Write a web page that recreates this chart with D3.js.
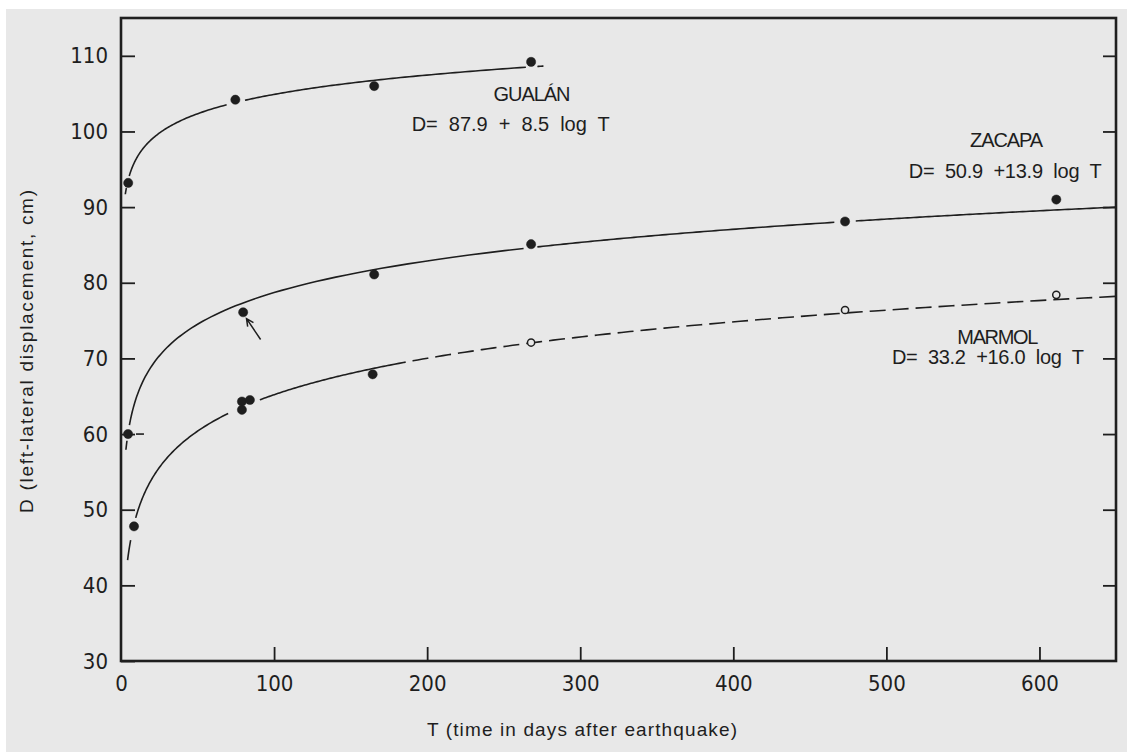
<!DOCTYPE html>
<html>
<head>
<meta charset="utf-8">
<script src="https://cdn.jsdelivr.net/npm/d3@7"></script>
<style>
  html, body { margin: 0; padding: 0; background: #ffffff; }
  svg { display: block; }
</style>
</head>
<body>
<svg width="1127" height="752"></svg>
<script>
var gualanT = [4.7, 74.7, 165.4, 267.9];
var gualanD = [93.2, 104.2, 106.0, 109.2];
var zacapaT = [4.6, 79.8, 165.4, 267.9, 473, 611];
var zacapaD = [60.0, 76.1, 81.1, 85.1, 88.1, 91.0];
var marmolT = [8.5, 79.0, 84.2, 79.0, 164.4];
var marmolD = [47.8, 64.3, 64.5, 63.2, 67.9];
var marmolOpenT = [267.9, 473, 611];
var marmolOpenD = [72.1, 76.4, 78.4];

// fitted curves  D = a + b log T
var gualanFit = [87.9, 8.5];
var zacapaFit = [50.9, 13.9];
var marmolFit = [33.2, 16.0];

// T ranges where each curve is inked
var gualanSolid = [[2.8, 3.5], [5.4, 69], [81, 264.5], [272, 276]];
var zacapaSolid = [[3.2, 3.9], [5.5, 263], [272, 466], [480, 650]];
var marmolSolid = [[4.3, 6.3], [9.6, 70], [90.7, 175.7]];
var marmolDashed = [[175.7, 650]];

var xTicks = [0, 100, 200, 300, 400, 500, 600];
var yTicks = [30, 40, 50, 60, 70, 80, 90, 100, 110];
var yTicksRight = [40, 50, 60, 70, 80, 90, 100, 110];

var labels = [
  {text: "GUALÁN", T: 268.5, D: 104.05, w: 77, anchor: "middle"},
  {text: "D=  87.9  +  8.5  log  T", T: 189.9, D: 100.1, w: 198, anchor: "start"},
  {text: "ZACAPA", T: 578.5, D: 97.9, w: 73, anchor: "middle"},
  {text: "D=  50.9  +13.9  log  T", T: 514.6, D: 93.9, w: 193, anchor: "start"},
  {text: "MARMOL", T: 572.8, D: 71.9, w: 81, anchor: "middle"},
  {text: "D=  33.2  +16.0  log  T", T: 503.6, D: 69.2, w: 192, anchor: "start"}
];

var zacapaBar = [[9.8, 60], [15, 60]];
var arrowTail = [91.2, 72.5];
var arrowHead = [82.0, 75.25];

var ink = "#1e1e1e";
var paper = "#e8e8e8";

var svg = d3.select("svg");

svg.append("rect").attr("x", 6).attr("y", 9).attr("width", 1121).attr("height", 743)
   .attr("fill", paper);

var x = d3.scaleLinear().domain([0, 650]).range([121, 1116]);
var y = d3.scaleLinear().domain([30, 115]).range([661, 18]);

function curvePts(fit, seg) {
    var n = 80, pts = [];
    var l0 = Math.log10(seg[0]), l1 = Math.log10(seg[1]);
    for (var i = 0; i <= n; i++) {
        var t = Math.pow(10, l0 + (l1 - l0) * i / n);
        pts.push([t, fit[0] + fit[1] * Math.log10(t)]);
    }
    return pts;
}

var line = d3.line()
    .x(function(d){ return x(d[0]); })
    .y(function(d){ return y(d[1]); });

function drawCurve(fit, segs, dashed) {
    svg.append("g")
      .selectAll("path")
      .data(segs)
      .enter()
      .append("path")
        .attr("d", function(s){ return line(curvePts(fit, s)); })
        .attr("fill", "none")
        .attr("stroke", ink)
        .attr("stroke-width", 1.6)
        .attr("stroke-dasharray", dashed ? "16,7" : null);
}

drawCurve(gualanFit, gualanSolid, false);
drawCurve(zacapaFit, zacapaSolid, false);
drawCurve(marmolFit, marmolSolid, false);
drawCurve(marmolFit, marmolDashed, true);

svg.append("path")
   .attr("d", line(zacapaBar))
   .attr("stroke", ink).attr("stroke-width", 1.6);

// axes
var xAxis = d3.axisBottom(x).tickValues(xTicks).tickSizeInner(-14).tickSizeOuter(0).tickPadding(14);
var gx = svg.append("g").attr("transform", "translate(0,661)").call(xAxis);

var yAxis = d3.axisLeft(y).tickValues(yTicks).tickSizeInner(-14).tickSizeOuter(0).tickPadding(13);
var gy = svg.append("g").attr("transform", "translate(121,0)").call(yAxis);

var yAxisR = d3.axisRight(y).tickValues(yTicksRight).tickSizeInner(-13).tickSizeOuter(0).tickFormat("");
var gyr = svg.append("g").attr("transform", "translate(1116,0)").call(yAxisR);

[gx, gy, gyr].forEach(function(g){
    g.select(".domain").remove();
    g.selectAll("line").attr("stroke", ink).attr("stroke-width", 1.8);
    g.selectAll("text")
     .attr("fill", ink)
     .attr("font-family", "'Liberation Sans Narrow', 'DejaVu Sans Condensed', sans-serif")
     .attr("font-size", "22px");
});
gx.selectAll(".tick").filter(function(d){ return d === 0; }).select("line").remove();

// frame
svg.append("rect")
   .attr("x", x(0)).attr("y", y(115))
   .attr("width", x(650) - x(0)).attr("height", y(30) - y(115))
   .attr("fill", "none").attr("stroke", ink).attr("stroke-width", 2.6);

// points
function dots(ts, ds, open) {
    svg.append("g")
      .selectAll("circle")
      .data(d3.zip(ts, ds))
      .enter()
      .append("circle")
        .attr("cx", function(d){ return x(d[0]); })
        .attr("cy", function(d){ return y(d[1]); })
        .attr("r", open ? 3.6 : 4.6)
        .attr("fill", open ? paper : ink)
        .attr("stroke", ink)
        .attr("stroke-width", open ? 1.5 : 0.5);
}
dots(gualanT, gualanD, false);
dots(zacapaT, zacapaD, false);
dots(marmolT, marmolD, false);
dots(marmolOpenT, marmolOpenD, true);

// arrow to the Zacapa point
var ax0 = x(arrowTail[0]), ay0 = y(arrowTail[1]), ax1 = x(arrowHead[0]), ay1 = y(arrowHead[1]);
var ang = Math.atan2(ay1 - ay0, ax1 - ax0);
svg.append("path")
   .attr("d", "M" + ax0 + "," + ay0 + "L" + ax1 + "," + ay1 +
              "M" + (ax1 - 8 * Math.cos(ang - 0.45)) + "," + (ay1 - 8 * Math.sin(ang - 0.45)) +
              "L" + ax1 + "," + ay1 +
              "L" + (ax1 - 8 * Math.cos(ang + 0.45)) + "," + (ay1 - 8 * Math.sin(ang + 0.45)))
   .attr("fill", "none").attr("stroke", ink).attr("stroke-width", 1.5);

// curve labels
svg.append("g")
  .selectAll("text")
  .data(labels)
  .enter()
  .append("text")
    .attr("x", function(d){ return d.anchor === "middle" ? x(d.T) - d.w / 2 : x(d.T); })
    .attr("y", function(d){ return y(d.D); })
    .attr("textLength", function(d){ return d.w; })
    .attr("lengthAdjust", "spacing")
    .attr("font-family", "'Liberation Sans', Arial, sans-serif")
    .attr("font-size", "20px")
    .attr("fill", ink)
    .style("white-space", "pre")
    .text(function(d){ return d.text; });

// axis titles
svg.append("text")
   .attr("x", 427).attr("y", 736)
   .attr("textLength", 310).attr("lengthAdjust", "spacing")
   .attr("font-family", "'Liberation Sans', Arial, sans-serif")
   .attr("font-size", "19px").attr("fill", ink)
   .text("T (time in days after earthquake)");

svg.append("text")
   .attr("transform", "translate(33,513) rotate(-90)")
   .attr("textLength", 323).attr("lengthAdjust", "spacing")
   .attr("font-family", "'Liberation Sans', Arial, sans-serif")
   .attr("font-size", "19px").attr("fill", ink)
   .text("D (left-lateral displacement, cm)");
</script>
</body>
</html>
